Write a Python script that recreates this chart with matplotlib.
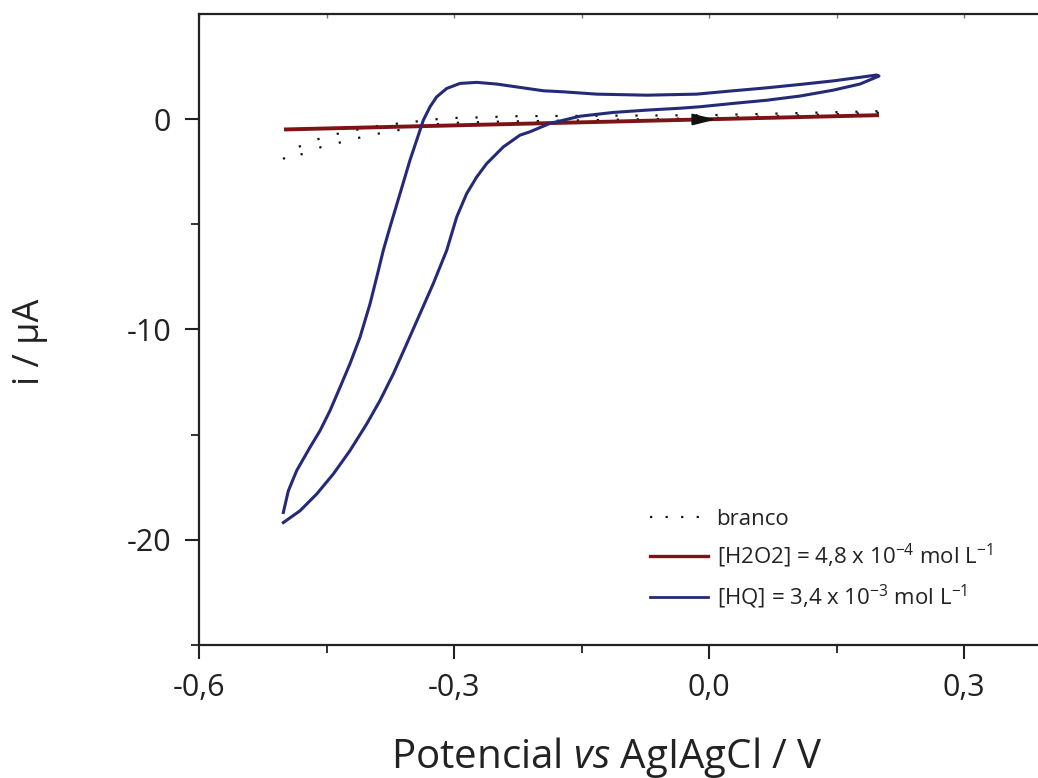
import matplotlib
matplotlib.use("Agg")
import matplotlib.pyplot as plt
from matplotlib.lines import Line2D

plt.rcParams['font.family'] = ['Open Sans', 'DejaVu Sans']
plt.rcParams['mathtext.fontset'] = 'custom'
plt.rcParams['mathtext.rm'] = 'Open Sans'
plt.rcParams['mathtext.it'] = 'Open Sans:italic'

# HQ cyclic voltammogram: forward branch (bottom-left up to +0.2 V) then return branch
hq_E = [-0.5008, -0.4949, -0.4851, -0.4694, -0.4576, -0.4459, -0.4341, -0.4224,
        -0.4106, -0.3988, -0.3909, -0.3832, -0.3753, -0.3635, -0.3518, -0.3439,
        -0.3361, -0.3282, -0.3204, -0.3086, -0.2929, -0.2733, -0.2498, -0.2224,
        -0.1949, -0.1714, -0.1321, -0.0733, -0.0145, 0.0286, 0.0679, 0.1071,
        0.1462, 0.1776, 0.1973, 0.2000,
        0.1776, 0.1462, 0.1071, 0.0679, 0.0286, -0.0106, -0.0341, -0.0733,
        -0.1126, -0.1518, -0.1714, -0.1871, -0.2106, -0.2224, -0.2420, -0.2615,
        -0.2733, -0.2851, -0.2968, -0.3086, -0.3244, -0.3400, -0.3556, -0.3714,
        -0.3871, -0.4027, -0.4224, -0.4420, -0.4615, -0.4812, -0.5008]
hq_I = [-18.70, -17.67, -16.71, -15.60, -14.81, -13.86, -12.75, -11.63,
        -10.37, -8.78, -7.51, -6.24, -5.13, -3.54, -1.95, -1.00,
        -0.05, 0.59, 1.06, 1.46, 1.70, 1.75, 1.67, 1.51,
        1.35, 1.30, 1.19, 1.14, 1.19, 1.35, 1.49, 1.65,
        1.82, 1.99, 2.10, 2.05,
        1.67, 1.38, 1.10, 0.90, 0.75, 0.59, 0.52, 0.43,
        0.32, 0.14, -0.05, -0.20, -0.60, -0.76, -1.32, -2.11,
        -2.75, -3.54, -4.65, -6.24, -7.82, -9.25, -10.68, -12.11,
        -13.38, -14.49, -15.76, -16.87, -17.82, -18.62, -19.18]

# H2O2 (nearly linear)
h2o2_E = [-0.50, -0.15, 0.20]
h2o2_I = [-0.49, -0.15, 0.19]

# blank (two scans, dotted)
br1_E = [-0.501, -0.483, -0.464, -0.444, -0.424, -0.385, -0.366, -0.348, -0.328,
         -0.309, -0.289, -0.269, -0.25, -0.23, 0.0, 0.2]
br1_I = [-1.9, -1.32, -1.0, -0.76, -0.57, -0.29, -0.21, -0.13, -0.02,
         0.03, 0.08, 0.08, 0.11, 0.14, 0.19, 0.38]
br2_E = [-0.493, -0.474, -0.456, -0.436, -0.416, -0.397, -0.379, -0.36, -0.34,
         -0.321, -0.301, -0.281, -0.262, 0.0, 0.2]
br2_I = [-1.84, -1.6, -1.32, -1.13, -0.92, -0.76, -0.6, -0.49, -0.33,
         -0.24, -0.18, -0.16, -0.13, 0.05, 0.30]

x_ticks = [-0.6, -0.3, 0.0, 0.3]
x_labels = ['-0,6', '-0,3', '0,0', '0,3']
x_minor = [-0.45, -0.15, 0.15, 0.45]
y_ticks = [0, -10, -20]
y_labels = ['0', '-10', '-20']
y_minor = [-5, -15, -25]

W, H = 1038, 778
fig = plt.figure(figsize=(W / 100, H / 100), dpi=100)
xmin, xmax = -0.6, 0.5
ax = fig.add_axes([199 / W, (H - 645) / H, (xmax - xmin) * 850 / W, (645 - 14) / H])
ax.set_xlim(xmin, xmax)
ax.set_ylim(-25, 5)

blue = '#252a78'
red = '#7e1315'
ink = '#222222'

ax.plot(br1_E, br1_I, color='#111111', lw=1.6, linestyle=(0, (1, 8)), zorder=2)
ax.plot(br2_E, br2_I, color='#111111', lw=1.6, linestyle=(4, (1, 8)), zorder=2)
ax.plot(h2o2_E, h2o2_I, color=red, lw=2.8, zorder=3, solid_capstyle='butt')
ax.plot(hq_E, hq_I, color=blue, lw=2.2, zorder=4, solid_joinstyle='round')

# scan-direction arrow
tri = [(-1.0, -0.5), (1.0, 0.0), (-1.0, 0.5), (-1.0, -0.5)]
ax.plot([-0.008], [0.03], marker=tri, markersize=15, color='#111111', zorder=5)

ax.set_xticks(x_ticks)
ax.set_xticklabels(x_labels)
ax.set_xticks(x_minor, minor=True)
ax.set_yticks(y_ticks)
ax.set_yticklabels(y_labels)
ax.set_yticks(y_minor, minor=True)

for s in ['left', 'bottom', 'top']:
    ax.spines[s].set_linewidth(1.6)
    ax.spines[s].set_color(ink)
ax.spines['right'].set_visible(False)

ax.tick_params(axis='both', which='major', direction='out', length=10, width=1.5,
               labelsize=22, colors=ink, pad=10)
ax.tick_params(axis='both', which='minor', direction='out', length=6, width=1.3,
               colors=ink)

# tiny inward ticks on the top spine
sec = ax.secondary_xaxis('top')
sec.set_xticks(x_ticks + x_minor)
sec.tick_params(direction='in', length=3, width=1.0, colors='#777777', labeltop=False)
sec.spines['top'].set_visible(False)

fig.text(30 / W, 1 - 342 / H, 'i / µA', rotation=90, fontsize=26,
         ha='center', va='center', color=ink)
fig.text(607 / W, 1 - 757 / H, r'Potencial $\mathit{vs}$ AgIAgCl / V',
         fontsize=29, ha='center', va='center', color=ink)

handles = [
    Line2D([], [], color='#111111', lw=1.6, linestyle=(0, (1, 6))),
    Line2D([], [], color=red, lw=2.4),
    Line2D([], [], color=blue, lw=2.0),
]
labels = ['branco',
          r'[H2O2] = 4,8 x 10$^{-4}$ mol L$^{-1}$',
          r'[HQ] = 3,4 x 10$^{-3}$ mol L$^{-1}$']
leg = fig.legend(handles, labels, loc='upper left',
                 bbox_to_anchor=(641 / W, 1 - 500 / H), frameon=False,
                 fontsize=16, handlelength=2.6, handletextpad=0.4,
                 labelspacing=0.55, borderaxespad=0)
for t in leg.get_texts():
    t.set_color(ink)

fig.savefig('out.png', dpi=100)
